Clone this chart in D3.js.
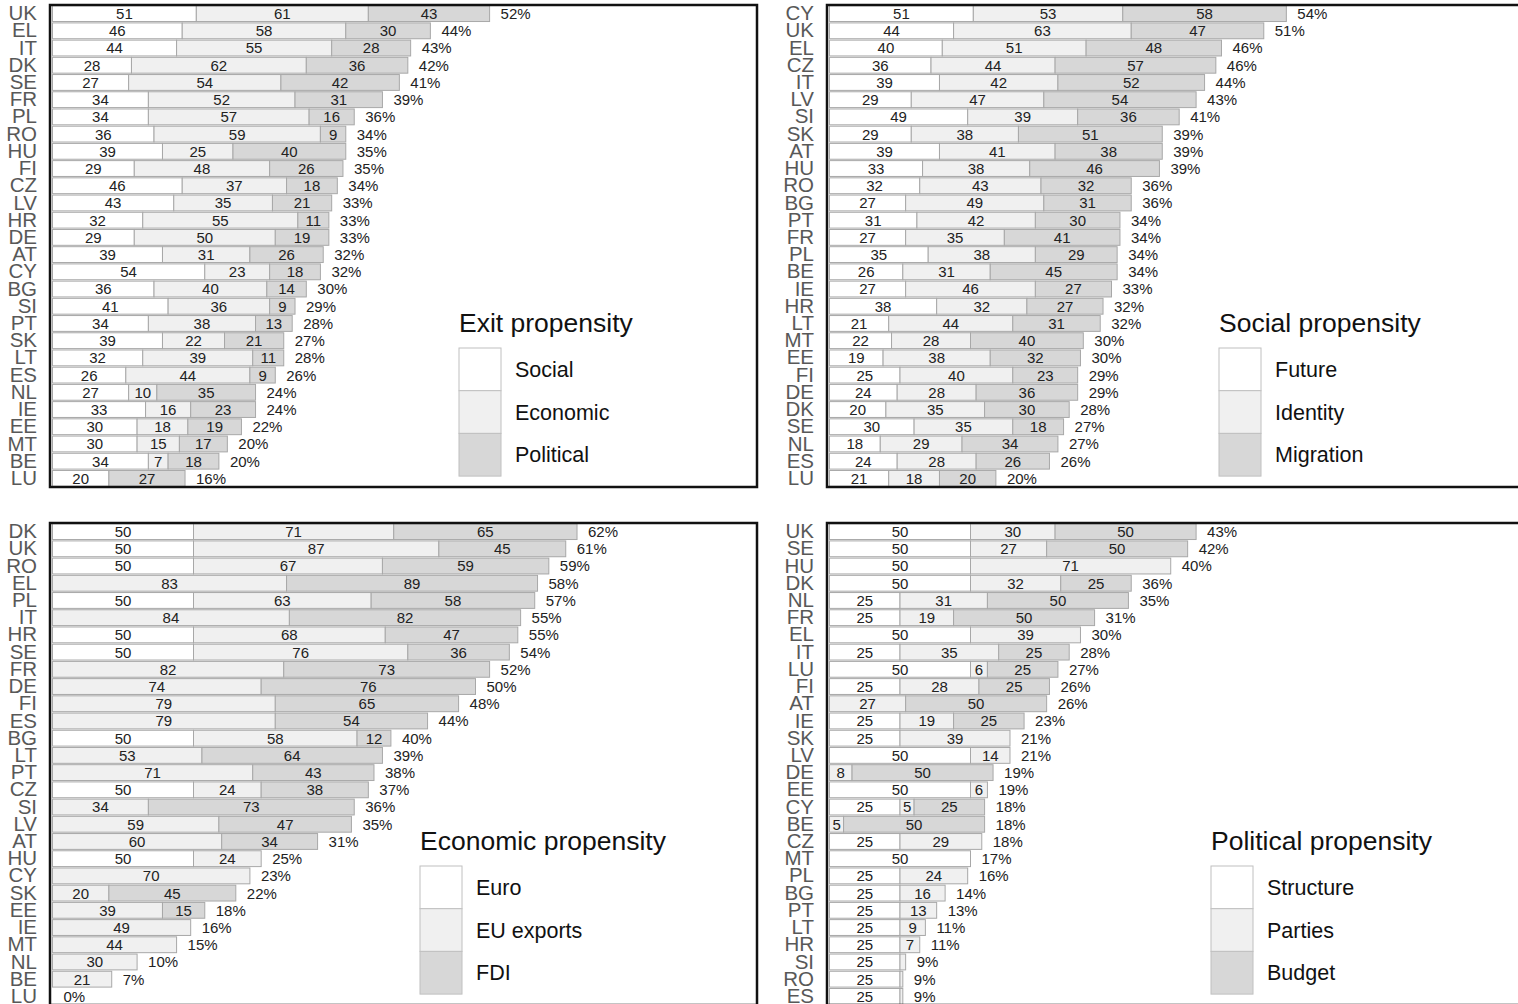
<!DOCTYPE html>
<html>
<head>
<meta charset="utf-8">
<script src="https://cdn.jsdelivr.net/npm/d3@7"></script>
<style>
  body { margin: 0; background: #fff; }
  svg { display: block; font-family: "Liberation Sans", Arial, sans-serif; }
</style>
</head>
<body>
<div id="chart"></div>
<script>
// EXIT PROPENSITY
const exitCountries = ["UK","EL","IT","DK","SE","FR","PL","RO","HU","FI","CZ","LV","HR","DE","AT","CY","BG","SI","PT","SK","LT","ES","NL","IE","EE","MT","BE","LU"];
const exitSocial    = [51,46,44,28,27,34,34,36,39,29,46,43,32,29,39,54,36,41,34,39,32,26,27,33,30,30,34,20];
const exitEconomic  = [61,58,55,62,54,52,57,59,25,48,37,35,55,50,31,23,40,36,38,22,39,44,10,16,18,15,7,0];
const exitPolitical = [43,30,28,36,42,31,16,9,40,26,18,21,11,19,26,18,14,9,13,21,11,9,35,23,19,17,18,27];
const exitTotals    = [52,44,43,42,41,39,36,34,35,35,34,33,33,33,32,32,30,29,28,27,28,26,24,24,22,20,20,16];

// SOCIAL PROPENSITY
const socialCountries = ["CY","UK","EL","CZ","IT","LV","SI","SK","AT","HU","RO","BG","PT","FR","PL","BE","IE","HR","LT","MT","EE","FI","DE","DK","SE","NL","ES","LU"];
const socialFuture    = [51,44,40,36,39,29,49,29,39,33,32,27,31,27,35,26,27,38,21,22,19,25,24,20,30,18,24,21];
const socialIdentity  = [53,63,51,44,42,47,39,38,41,38,43,49,42,35,38,31,46,32,44,28,38,40,28,35,35,29,28,18];
const socialMigration = [58,47,48,57,52,54,36,51,38,46,32,31,30,41,29,45,27,27,31,40,32,23,36,30,18,34,26,20];
const socialTotals    = [54,51,46,46,44,43,41,39,39,39,36,36,34,34,34,34,33,32,32,30,30,29,29,28,27,27,26,20];

// ECONOMIC PROPENSITY
const econCountries = ["DK","UK","RO","EL","PL","IT","HR","SE","FR","DE","FI","ES","BG","LT","PT","CZ","SI","LV","AT","HU","CY","SK","EE","IE","MT","NL","BE","LU"];
const econEuro      = [50,50,50,0,50,0,50,50,0,0,0,0,50,0,0,50,0,0,0,50,0,0,0,0,0,0,0,0];
const econExports   = [71,87,67,83,63,84,68,76,82,74,79,79,58,53,71,24,34,59,60,24,70,20,39,49,44,30,21,0];
const econFdi       = [65,45,59,89,58,82,47,36,73,76,65,54,12,64,43,38,73,47,34,0,0,45,15,0,0,0,0,0];
const econTotals    = [62,61,59,58,57,55,55,54,52,50,48,44,40,39,38,37,36,35,31,25,23,22,18,16,15,10,7,0];

// POLITICAL PROPENSITY
const polCountries = ["UK","SE","HU","DK","NL","FR","EL","IT","LU","FI","AT","IE","SK","LV","DE","EE","CY","BE","CZ","MT","PL","BG","PT","LT","HR","SI","RO","ES"];
const polStructure = [50,50,50,50,25,25,50,25,50,25,0,25,25,50,0,50,25,0,25,50,25,25,25,25,25,25,25,25];
const polParties   = [30,27,71,32,31,19,39,35,6,28,27,19,39,14,8,6,5,5,29,0,24,16,13,9,7,2,1,1];
const polBudget    = [50,50,0,25,50,50,0,25,25,25,50,25,0,0,50,0,25,50,0,0,0,0,0,0,0,0,0,0];
const polTotals    = [43,42,40,36,35,31,30,28,27,26,26,23,21,21,19,19,18,18,18,17,16,14,13,11,11,9,9,9];

const panels = [
    { title: "Exit propensity", keys: ["Social", "Economic", "Political"],
      countries: exitCountries, series: [exitSocial, exitEconomic, exitPolitical], totals: exitTotals,
      left: 50, top: 5, legendX: 459 },
    { title: "Social propensity", keys: ["Future", "Identity", "Migration"],
      countries: socialCountries, series: [socialFuture, socialIdentity, socialMigration], totals: socialTotals,
      left: 827, top: 5, legendX: 1219 },
    { title: "Economic propensity", keys: ["Euro", "EU exports", "FDI"],
      countries: econCountries, series: [econEuro, econExports, econFdi], totals: econTotals,
      left: 50, top: 523, legendX: 420 },
    { title: "Political propensity", keys: ["Structure", "Parties", "Budget"],
      countries: polCountries, series: [polStructure, polParties, polBudget], totals: polTotals,
      left: 827, top: 523, legendX: 1211 }
];

const W = 1518, H = 1004;
const frameW = 707, frameH = 482;
const fills = ["#ffffff", "#f0f0f0", "#d7d7d7"];

const svg = d3.select("#chart").append("svg")
    .attr("width", W)
    .attr("height", H);

panels.forEach(p => {
    const g = svg.append("g");

    // table for the stack
    const table = p.countries.map((c, i) => {
        const row = { country: c, total: p.totals[i] };
        p.keys.forEach((k, j) => { row[k] = p.series[j][i]; });
        return row;
    });
    const stacked = d3.stack().keys(p.keys)(table);

    // SCALES
    const x = d3.scaleLinear()
        .domain([0, 250])
        .range([p.left + 2.5, p.left + 2.5 + 705]);

    const y = d3.scaleBand()
        .domain(p.countries)
        .range([p.top, p.top + frameH])
        .paddingInner(0.08)
        .paddingOuter(0.04);

    // BARS
    const layers = g.selectAll(".layer")
        .data(stacked).enter().append("g")
        .attr("fill", (d, i) => fills[i]);

    layers.selectAll("rect")
        .data(d => d.filter(s => s[1] - s[0] > 0)).enter().append("rect")
        .attr("x", d => x(d[0]))
        .attr("y", d => y(d.data.country))
        .attr("width", d => x(d[1]) - x(d[0]))
        .attr("height", y.bandwidth())
        .attr("stroke", "#a8a8a8")
        .attr("stroke-width", 1);

    layers.selectAll("text")
        .data(d => d.filter(s => x(s[1]) - x(s[0]) > 7)).enter().append("text")
        .attr("x", d => (x(d[0]) + x(d[1])) / 2)
        .attr("y", d => y(d.data.country) + y.bandwidth() / 2)
        .attr("dy", "0.36em")
        .attr("text-anchor", "middle")
        .attr("font-size", 15)
        .attr("fill", "#222")
        .text(d => d[1] - d[0]);

    // TOTAL LABELS
    const last = stacked[stacked.length - 1];
    g.append("g").selectAll("text")
        .data(last).enter().append("text")
        .attr("x", d => x(d[1]) + 11)
        .attr("y", d => y(d.data.country) + y.bandwidth() / 2)
        .attr("dy", "0.36em")
        .attr("font-size", 15)
        .attr("fill", "#222")
        .text(d => d.data.total + "%");

    // COUNTRY AXIS
    const ax = g.append("g")
        .attr("transform", "translate(" + p.left + ",0)")
        .call(d3.axisLeft(y).tickSize(0).tickPadding(13));
    ax.select(".domain").remove();
    ax.selectAll("text")
        .attr("font-family", "'Liberation Sans', Arial, sans-serif")
        .attr("font-size", 20.5)
        .attr("fill", "#585858");

    // FRAME
    g.append("rect")
        .attr("x", p.left)
        .attr("y", p.top)
        .attr("width", frameW)
        .attr("height", frameH)
        .attr("fill", "none")
        .attr("stroke", "#111")
        .attr("stroke-width", 2.5);

    // LEGEND
    const lg = g.append("g")
        .attr("transform", "translate(" + p.legendX + "," + (p.top + 327) + ")");
    lg.append("text")
        .attr("x", 0)
        .attr("y", 0)
        .attr("font-size", 26.5)
        .attr("fill", "#111")
        .text(p.title);
    lg.selectAll(".lbox")
        .data(p.keys).enter().append("rect")
        .attr("x", 0)
        .attr("y", (d, i) => 16 + i * 42.7)
        .attr("width", 42)
        .attr("height", 42.7)
        .attr("fill", (d, i) => fills[i])
        .attr("stroke", "#c0c0c0");
    lg.selectAll(".ltext")
        .data(p.keys).enter().append("text")
        .attr("x", 56)
        .attr("y", (d, i) => 16 + i * 42.7 + 21.3)
        .attr("dy", "0.36em")
        .attr("font-size", 21.5)
        .attr("fill", "#111")
        .text(d => d);
});
</script>
</body>
</html>
